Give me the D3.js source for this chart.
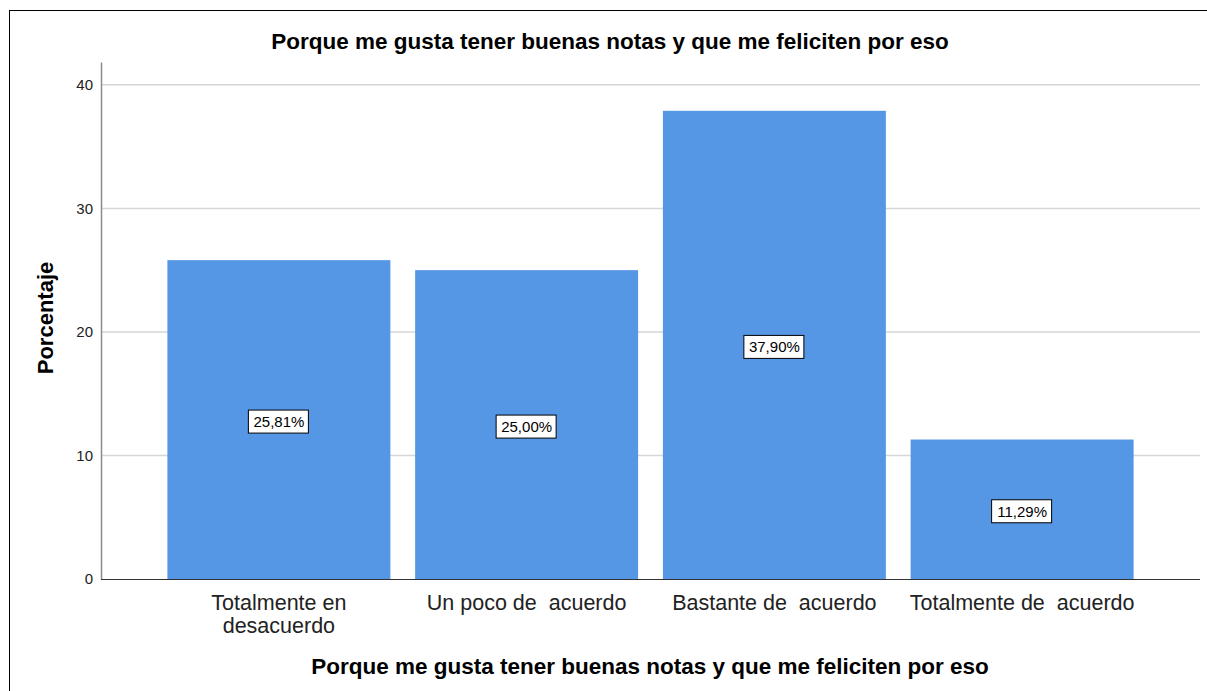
<!DOCTYPE html>
<html>
<head>
<meta charset="utf-8">
<script src="https://cdn.jsdelivr.net/npm/d3@7"></script>
<style>
  body { margin: 0; background: #fff; }
  text { font-family: "Liberation Sans", Arial, sans-serif; }
</style>
</head>
<body>
<script>
// data
var categories = [["Totalmente en", "desacuerdo"], ["Un poco de  acuerdo"], ["Bastante de  acuerdo"], ["Totalmente de  acuerdo"]];
var percents = [25.81, 25.00, 37.90, 11.29];
var pctLabels = ["25,81%", "25,00%", "37,90%", "11,29%"];
var yTicks = [0, 10, 20, 30, 40];
var title = "Porque me gusta tener buenas notas y que me feliciten por eso";

var width = 1207, height = 691;
var plotLeft = 101, plotRight = 1200, plotTop = 62, plotBottom = 579;

var svg = d3.select("body").append("svg")
    .attr("width", width)
    .attr("height", height);

// outer frame
svg.append("rect")
    .attr("x", 9.5).attr("y", 10.5)
    .attr("width", 1210).attr("height", 700)
    .attr("fill", "none").attr("stroke", "#000");

var x = d3.scaleBand()
    .domain(d3.range(categories.length))
    .range([plotLeft, plotRight])
    .paddingInner(0.1)
    .paddingOuter(0.268);

var y = d3.scaleLinear()
    .domain([0, 41.85])
    .range([plotBottom, plotTop]);

// gridlines
svg.append("g")
    .selectAll("line")
    .data(yTicks.slice(1))
    .join("line")
    .attr("x1", plotLeft).attr("x2", plotRight)
    .attr("y1", d => y(d)).attr("y2", d => y(d))
    .attr("stroke", "#d6d6d6")
    .attr("stroke-width", 1.5);

// y axis
var yAxis = svg.append("g")
    .attr("transform", "translate(" + plotLeft + ",0)")
    .call(d3.axisLeft(y).tickValues(yTicks).tickSize(0).tickPadding(8));
yAxis.select(".domain").attr("stroke", "#8c8c8c").attr("stroke-width", 1.5);
yAxis.selectAll("text")
    .style("font-size", "15px")
    .style("font-family", "Liberation Sans, Arial, sans-serif")
    .attr("fill", "#222");

// bars
svg.append("g")
    .selectAll("rect")
    .data(percents)
    .join("rect")
    .attr("x", (d, i) => x(i))
    .attr("y", d => y(d))
    .attr("width", x.bandwidth())
    .attr("height", d => y(0) - y(d))
    .attr("fill", "#5596e5");

// x axis line
svg.append("line")
    .attr("x1", plotLeft).attr("x2", plotRight)
    .attr("y1", plotBottom + 0.5).attr("y2", plotBottom + 0.5)
    .attr("stroke", "#333");

// value labels
var labels = svg.append("g")
    .selectAll("g")
    .data(percents)
    .join("g")
    .attr("transform", (d, i) => "translate(" + (x(i) + x.bandwidth() / 2) + "," + ((y(d) + y(0)) / 2 + 2) + ")");
labels.append("rect")
    .attr("x", -30.5).attr("y", -11.5)
    .attr("width", 60).attr("height", 23)
    .attr("fill", "#fff").attr("stroke", "#000");
labels.append("text")
    .attr("text-anchor", "middle")
    .attr("dy", "0.35em")
    .style("font-size", "15px")
    .text((d, i) => pctLabels[i]);

// category labels
var cat = svg.append("g")
    .selectAll("text")
    .data(categories)
    .join("text")
    .attr("text-anchor", "middle")
    .attr("x", (d, i) => x(i) + x.bandwidth() / 2)
    .attr("y", 610)
    .style("font-size", "21.5px")
    .style("white-space", "pre")
    .attr("fill", "#222");
cat.selectAll("tspan")
    .data(d => d)
    .join("tspan")
    .attr("x", function () { return this.parentNode.getAttribute("x"); })
    .attr("dy", (d, i) => i === 0 ? 0 : 22.5)
    .text(d => d);

// titles
svg.append("text")
    .attr("x", 610).attr("y", 49)
    .attr("text-anchor", "middle")
    .style("font-size", "22.5px").style("font-weight", "bold")
    .text(title);

svg.append("text")
    .attr("x", 650).attr("y", 674)
    .attr("text-anchor", "middle")
    .style("font-size", "22.5px").style("font-weight", "bold")
    .text(title);

svg.append("text")
    .attr("transform", "translate(53," + 318 + ") rotate(-90)")
    .attr("text-anchor", "middle")
    .style("font-size", "22px").style("font-weight", "bold")
    .text("Porcentaje");
</script>
</body>
</html>
